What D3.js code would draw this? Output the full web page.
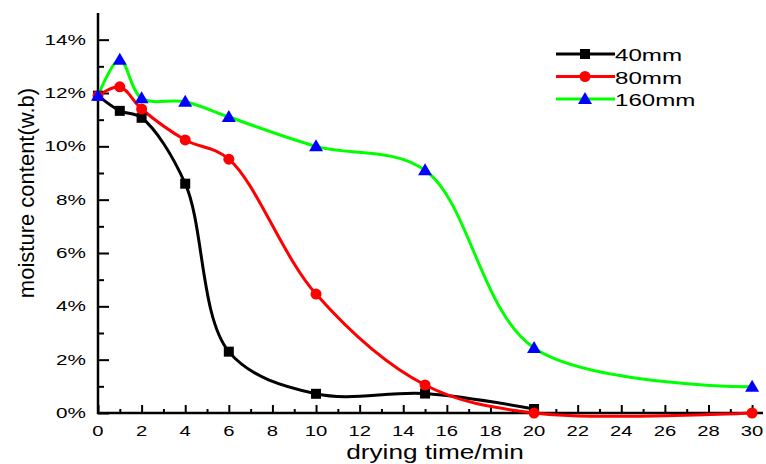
<!DOCTYPE html>
<html>
<head>
<meta charset="utf-8">
<script src="https://cdn.jsdelivr.net/npm/d3@7"></script>
<style>
  body { margin: 0; background: #fff; }
  svg { font-family: "Liberation Sans", Arial, sans-serif; }
</style>
</head>
<body>
<svg id="chart" width="766" height="464"></svg>
<script>
// Datos
const times40 = [0, 1, 2, 4, 6, 10, 15, 20];
const moist40 = [11.9, 11.33, 11.07, 8.6, 2.3, 0.72, 0.73, 0.15];
const times80 = [0, 1, 2, 4, 6, 10, 15, 20, 30];
const moist80 = [11.9, 12.23, 11.4, 10.24, 9.52, 4.46, 1.05, 0.0, 0.0];
const times160 = [0, 1, 2, 4, 6, 10, 15, 20, 30];
const moist160 = [11.9, 13.25, 11.8, 11.67, 11.1, 10.0, 9.1, 2.44, 0.98];
const seriesNames = ["40mm", "80mm", "160mm"];
const xTicks = [0, 2, 4, 6, 8, 10, 12, 14, 16, 18, 20, 22, 24, 26, 28, 30];
const yTicks = [0, 2, 4, 6, 8, 10, 12, 14];

const svg = d3.select("#chart");

const x = d3.scaleLinear().domain([0, 30.5]).range([98, 763]);
const y = d3.scaleLinear().domain([0, 15]).range([413, 13]);

const series = [
  { name: seriesNames[0], t: times40, v: moist40, color: "#000000", marker: "square", mcolor: "#000000" },
  { name: seriesNames[1], t: times80, v: moist80, color: "#ff0000", marker: "circle", mcolor: "#ff0000" },
  { name: seriesNames[2], t: times160, v: moist160, color: "#00ff00", marker: "triangle", mcolor: "#0000ff" },
];

// Texto estirado horizontalmente (como en la imagen original)
const stretchedText = (g, tx, ty, str, size, sx, anchor, rot = 0) =>
  g.append("text")
    .attr("transform", `translate(${tx},${ty}) rotate(${rot}) scale(${sx},1)`)
    .attr("text-anchor", anchor)
    .attr("font-size", size)
    .attr("fill", "#000")
    .text(str);

// Eje X
const xAxis = svg.append("g").attr("transform", `translate(0, ${y(0)})`);
xAxis.call(d3.axisTop(x).tickValues(d3.range(1, 31, 2)).tickSize(4).tickFormat(""));
xAxis.call((g) => g.append("g").call(d3.axisTop(x).tickValues(xTicks).tickSize(8).tickFormat("")));
xAxis.selectAll(".domain").remove();
xAxis.selectAll("line").attr("stroke", "#000").attr("stroke-width", 2);
const xLabels = svg.append("g");
xTicks.forEach((d) => stretchedText(xLabels, x(d), 436, d, 15, 1.35, "middle"));

// Eje Y
const yAxis = svg.append("g").attr("transform", `translate(${x(0)}, 0)`);
yAxis.call(d3.axisRight(y).tickValues(d3.range(1, 15, 2)).tickSize(6).tickFormat(""));
yAxis.call((g) => g.append("g").call(d3.axisRight(y).tickValues(yTicks).tickSize(11).tickFormat("")));
yAxis.selectAll(".domain").remove();
yAxis.selectAll("line").attr("stroke", "#000").attr("stroke-width", 2);
const yLabels = svg.append("g");
yTicks.forEach((d) => stretchedText(yLabels, 86, y(d) + 5, `${d}%`, 15, 1.38, "end"));

// Líneas de ejes
svg.append("line").attr("x1", x(0)).attr("x2", x(0)).attr("y1", y(15)).attr("y2", y(0) + 1)
  .attr("stroke", "#000").attr("stroke-width", 2.5);
svg.append("line").attr("x1", x(0) - 1).attr("x2", x(30.5)).attr("y1", y(0)).attr("y2", y(0))
  .attr("stroke", "#000").attr("stroke-width", 2.5);

// Rótulos de ejes
stretchedText(svg, 435, 459, "drying time/min", 20, 1.31, "middle");
stretchedText(svg, 34, 193, "moisture content(w.b)", 22, 1.0, "middle", -90);

// Marcadores
const drawMarker = (g, type, cx, cy, color) => {
  if (type === "square") {
    g.append("rect").attr("x", cx - 5).attr("y", cy - 5).attr("width", 10).attr("height", 10).attr("fill", color);
  } else if (type === "circle") {
    g.append("circle").attr("cx", cx).attr("cy", cy).attr("r", 5.5).attr("fill", color);
  } else {
    g.append("path").attr("d", `M${cx},${cy - 7}L${cx + 7},${cy + 5}L${cx - 7},${cy + 5}Z`).attr("fill", color);
  }
};

const line = d3.line().x((d) => x(d[0])).y((d) => y(d[1])).curve(d3.curveCatmullRom.alpha(0.5));

series.forEach((s) => {
  const pts = s.t.map((t, i) => [t, s.v[i]]);
  svg.append("path").datum(pts).attr("d", line)
    .attr("fill", "none").attr("stroke", s.color).attr("stroke-width", 3);
});
series.forEach((s) => {
  const g = svg.append("g");
  s.t.forEach((t, i) => drawMarker(g, s.marker, x(t), y(s.v[i]), s.mcolor));
});

// Leyenda
const legend = svg.append("g");
series.forEach((s, i) => {
  const ly = 54 + i * 22.5;
  legend.append("line").attr("x1", 556).attr("x2", 615).attr("y1", ly).attr("y2", ly)
    .attr("stroke", s.color).attr("stroke-width", 3);
  drawMarker(legend, s.marker, 585, ly, s.mcolor);
  stretchedText(legend, 615, ly + 7, s.name, 17, 1.42, "start");
});
</script>
</body>
</html>
